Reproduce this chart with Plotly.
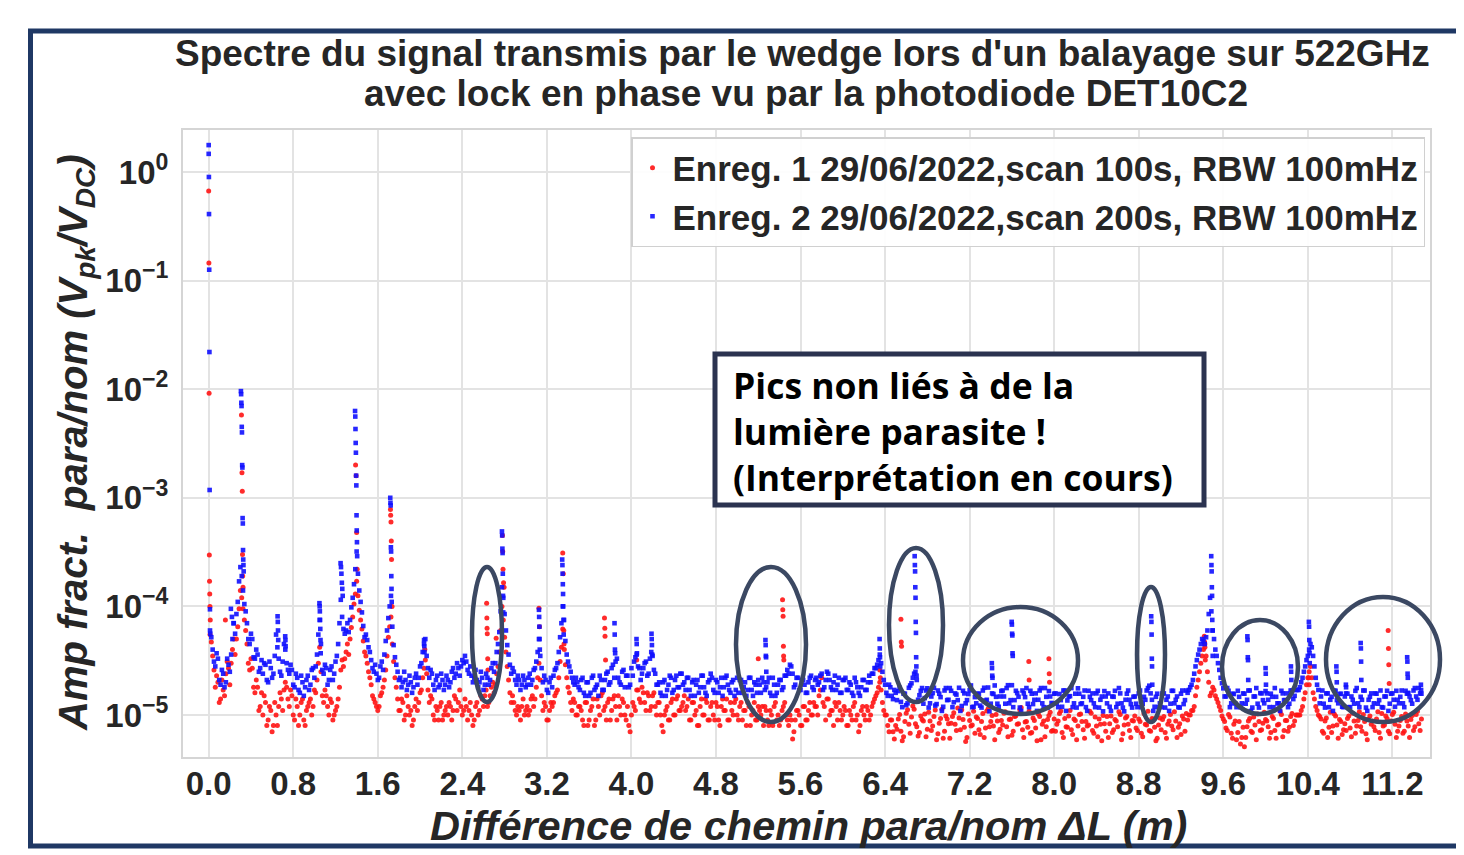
import numpy as np
import plotly.graph_objects as go

# ---------------- data (fractional amplitude in ppm = 1e-6) ----------------
floor_x_step = 0.025  # m; floor samples (two interleaved sets)

red_floor_ppm = [
    47, 26, 23, 13, 21, 15, 31, 19, 40, 36,
    65, 140, 95, 60, 30, 33, 18, 21, 11, 16,
    15, 8, 12, 7, 13, 8, 16, 11, 20, 14,
    17, 10, 14, 8, 13, 9, 11, 13, 10, 17,
    21, 42, 15, 17, 12, 14, 9, 11, 14, 26,
    28, 38, 36, 64, 105, 170, 92, 62, 38, 30,
    22, 15, 13, 11, 15, 18, 26, 52, 80, 31,
    18, 11, 14, 9, 15, 10, 8, 12, 11, 16,
    22, 32, 17, 15, 10, 12, 9, 13, 10, 12,
    13, 9, 15, 11, 17, 10, 14, 9, 13, 8,
    12, 10, 15, 12, 17, 13, 18, 16, 24, 38,
    100, 52, 28, 16, 15, 11, 12, 9, 14, 11,
    10, 14, 12, 18, 30, 15, 13, 9, 11, 12,
    15, 17, 31, 62, 29, 18, 13, 14, 10, 12,
    11, 8, 13, 9, 12, 8, 14, 10, 16, 12,
    13, 9, 14, 12, 15, 10, 13, 9, 8, 10,
    12, 17, 14, 18, 13, 16, 11, 15, 12, 13,
    10, 7, 11, 9, 13, 10, 14, 11, 12, 15,
    12, 9, 13, 10, 8, 12, 10, 14, 9, 12,
    10, 13, 9, 12, 11, 14, 9, 11, 13, 10,
    12, 9, 11, 13, 8, 11, 9, 12, 10, 8,
    11, 8, 10, 12, 9, 8, 11, 13, 9, 10,
    6, 9, 11, 8, 12, 9, 11, 10, 13, 12,
    15, 22, 12, 14, 10, 11, 13, 9, 11, 10,
    11, 8, 10, 12, 9, 7, 11, 10, 12, 9,
    12, 14, 16, 20, 13, 10, 8, 9, 7, 8,
    9.2, 7.1, 6.3, 10.4, 8.2, 9.6, 11.3, 7.8, 6.9, 9.1,
    10.2, 7.4, 8.8, 7.9, 11.1, 6.7, 9.3, 6.1, 9.8, 8.3,
    8.4, 10.5, 7.2, 9.4, 11.2, 7.7, 6.2, 8.9, 8.1, 6.8,
    9.3, 6.6, 10.3, 7.6, 11.4, 8.7, 7.9, 10.1, 6.9, 8.9,
    10.4, 7.8, 9.1, 6.5, 9.7, 8.2, 11.2, 7.3, 8.6, 7.7,
    6.8, 9.4, 7.6, 10.2, 5.9, 8.8, 7.8, 9.9, 7.1, 9.2,
    8.2, 10.3, 6.9, 9.3, 7.7, 11.0, 6.6, 8.9, 7.9, 10.2,
    7.3, 8.7, 8.1, 10.4, 6.8, 7.9, 9.2, 5.8, 8.3, 9.7,
    8.3, 6.9, 9.1, 7.8, 10.1, 6.7, 9.4, 8.2, 6.2, 8.8,
    7.6, 9.2, 6.8, 10.3, 8.1, 7.2, 9.3, 7.7, 6.1, 9.4,
    9.1, 6.9, 8.2, 10.1, 7.3, 8.8, 7.7, 6.6, 9.2, 10.3,
    10, 11, 12, 18, 25, 35, 45, 25, 15, 18,
    15, 13, 11, 9.2, 7.6, 10.1, 6.8, 8.2, 5.9, 8.7,
    6.2, 5.1, 7.8, 9.3, 6.9, 8.1, 10.2, 7.2, 8.4, 9.1,
    7.8, 6.9, 9.3, 6.1, 8.2, 10.1, 7.2, 8.9, 7.7, 10.3,
    8.8, 10, 10, 12, 16, 22, 28, 16, 12, 10,
    9.2, 6.8, 9.4, 7.7, 6.9, 10.2, 8.1, 9.1, 6.6, 8.3,
    9.3, 7.6, 10.4, 6.8, 8.9, 7.8, 10.1, 6.7, 9.2, 8.2,
    7.8, 9.2, 6.9, 10.3, 8.1, 9.3, 6.7, 10.1, 8.2, 7.1,
    8.9, 6.8, 10.2, 7.9, 9.1, 7.2, 10.1, 8.3, 9.2,
]
red_floor2_ppm = [
    55, 35, 18, 20, 14, 17, 24, 27, 30, 50,
    50, 95, 120, 75, 45, 26, 27, 16, 18, 12,
    10, 13, 9, 11, 8, 10, 12, 14, 17, 18,
    12, 15, 9, 12, 10, 14, 8, 12, 14, 12,
    16, 30, 25, 13, 15, 10, 13, 10, 12, 18,
    32, 33, 45, 50, 80, 130, 125, 75, 48, 35,
    25, 19, 14, 12, 12, 16, 21, 35, 65, 45,
    22, 14, 11, 13, 10, 12, 11, 9, 14, 13,
    17, 27, 24, 13, 14, 9, 11, 12, 9, 11,
    10, 12, 11, 14, 13, 12, 11, 12, 11, 10,
    9, 13, 11, 14, 15, 12, 15, 20, 19, 28,
    60, 75, 38, 21, 13, 13, 10, 11, 12, 10,
    12, 11, 15, 14, 22, 21, 11, 12, 9, 13,
    13, 16, 22, 42, 45, 22, 16, 11, 13, 10,
    12, 9, 13, 8, 11, 14, 9, 12, 15, 11,
    9, 14, 11, 15, 9, 12, 14, 10, 12, 7,
    13, 11, 17, 13, 16, 11, 15, 12, 16, 10,
    13, 8, 10, 12, 9, 14, 10, 15, 11, 13,
    11, 14, 9, 13, 11, 8, 14, 10, 13, 9,
    13, 9, 12, 8, 14, 11, 9, 13, 10, 14,
    9, 13, 11, 8, 12, 10, 13, 9, 11, 12,
    12, 9, 11, 8, 13, 10, 9, 12, 10, 8,
    9, 7, 11, 10, 8, 12, 9, 13, 10, 12,
    10, 17, 13, 9, 14, 11, 8, 12, 13, 9,
    12, 8, 11, 9, 13, 10, 8, 12, 9, 11,
    10, 13, 15, 18, 17, 11, 10, 7, 9, 6,
    7.4, 10.1, 5.8, 8.7, 11.2, 6.8, 12.1, 8.3, 6.4, 9.8,
    8.8, 6.3, 10.6, 7.2, 9.7, 5.9, 8.4, 11.3, 7.1, 9.2,
    6.1, 9.7, 8.2, 11.6, 7.3, 9.1, 5.7, 10.2, 7.9, 10.8,
    9.6, 7.3, 8.7, 6.2, 10.9, 7.8, 9.9, 5.9, 8.8, 7.4,
    8.1, 10.7, 6.3, 9.2, 7.1, 9.8, 8.3, 11.7, 6.2, 8.7,
    10.8, 6.9, 8.9, 5.8, 9.7, 8.2, 6.3, 9.1, 10.6, 7.2,
    7.1, 8.8, 10.9, 6.2, 7.8, 9.8, 7.3, 9.2, 5.9, 10.1,
    8.7, 6.1, 7.9, 10.8, 7.2, 9.6, 6.3, 8.2, 9.9, 7.1,
    6.2, 9.8, 7.3, 8.8, 10.7, 5.9, 8.1, 9.7, 7.2, 8.9,
    9.8, 7.2, 8.7, 6.3, 8.2, 10.8, 7.1, 9.2, 5.8, 8.1,
    7.3, 9.7, 6.1, 8.8, 7.9, 10.7, 6.2, 8.3, 9.8, 7.1,
    9, 10, 11, 15, 21, 30, 40, 35, 20, 16,
    17, 14, 12, 9.8, 8.7, 7.2, 9.6, 6.1, 8.8, 6.9,
    5.4, 7.7, 6.2, 8.8, 7.1, 9.6, 5.9, 8.7, 7.3, 10.6,
    8.8, 6.1, 9.7, 7.2, 8.1, 10.8, 6.3, 8.9, 7.1, 9.7,
    8, 10, 10, 11, 14, 19, 25, 22, 14, 11,
    9.7, 7.1, 8.8, 6.2, 10.6, 7.9, 9.8, 6.1, 8.7, 7.3,
    7.2, 9.8, 6.3, 8.8, 7.9, 10.7, 7.1, 8.7, 5.9, 9.8,
    8.8, 7.2, 10.7, 6.1, 7.9, 9.8, 7.1, 8.8, 10.6, 6.2,
    7.9, 9.7, 7.1, 8.8, 6.2, 9.9, 7.8, 10.8, 7.2,
]

blue_floor_ppm = [
    52, 31, 37, 21, 26, 18, 33, 25, 50, 56,
    110, 230, 140, 90, 50, 56, 34, 40, 25, 32,
    30, 21, 31, 22, 35, 42, 25, 31, 40, 26,
    29, 19, 24, 17, 23, 15, 21, 17, 26, 22,
    36, 75, 26, 29, 19, 26, 21, 31, 45, 115,
    62, 60, 58, 98, 160, 320, 140, 88, 52, 49,
    38, 27, 29, 21, 28, 26, 48, 78, 125, 44,
    29, 21, 18, 25, 17, 23, 16, 22, 19, 28,
    38, 50, 27, 26, 19, 21, 18, 24, 17, 23,
    18, 25, 22, 30, 23, 32, 35, 26, 28, 20,
    26, 18, 25, 17, 24, 19, 27, 25, 38, 58,
    150, 85, 44, 29, 27, 21, 23, 17, 23, 18,
    22, 19, 26, 31, 50, 27, 23, 17, 20, 18,
    26, 30, 52, 100, 48, 31, 25, 20, 22, 18,
    21, 16, 20, 15, 22, 17, 19, 23, 17, 21,
    25, 20, 29, 31, 22, 19, 26, 23, 18, 27,
    31, 36, 27, 24, 30, 23, 33, 35, 24, 19,
    16, 20, 15, 19, 22, 17, 23, 18, 24, 20,
    22, 17, 20, 15, 21, 18, 23, 16, 20, 24,
    17, 21, 16, 22, 18, 23, 17, 20, 15, 22,
    21, 16, 20, 17, 22, 15, 19, 21, 16, 20,
    18, 22, 15, 19, 16, 21, 17, 23, 26, 29,
    24, 19, 22, 17, 21, 16, 20, 23, 17, 22,
    20, 24, 18, 25, 21, 17, 23, 19, 16, 21,
    22, 17, 19, 15, 20, 16, 18, 21, 17, 23,
    24, 27, 29, 36, 25, 19, 15, 18, 14, 16,
    16.6, 13.2, 15.7, 12.3, 17.8, 19.6, 24, 21, 15.2, 17.7,
    14.3, 17.6, 12.8, 15.9, 12.2, 16.8, 14.6, 11.9, 17.7, 13.8,
    16.7, 13.1, 15.4, 17.8, 12.1, 15.8, 13.7, 16.9, 11.8, 14.6,
    15.7, 12.2, 16.8, 13.6, 17.9, 12.7, 15.6, 14.7, 11.9, 16.6,
    14.8, 17.7, 12.8, 18.8, 13.7, 15.9, 11.7, 16.8, 14.6, 12.7,
    16.7, 12.6, 15.8, 13.8, 17.7, 11.8, 14.7, 16.6, 12.9, 15.7,
    12.8, 15.6, 11.9, 16.8, 13.6, 14.9, 11.8, 15.7, 17.6, 12.6,
    14.7, 11.8, 16.7, 13.7, 12.8, 15.8, 11.7, 14.8, 16.6, 12.8,
    11.9, 14.8, 16.7, 12.7, 15.8, 11.7, 13.8, 16.8, 12.6, 14.7,
    12.7, 15.8, 11.8, 14.7, 16.8, 18.6, 13.8, 11.9, 15.7, 12.8,
    15.8, 11.7, 14.8, 12.7, 16.7, 13.8, 11.8, 15.7, 12.6, 16.8,
    17, 19, 24, 32, 40, 50, 45, 60, 120, 60,
    40, 30, 22, 17.6, 14.8, 16.7, 12.8, 15.6, 11.8, 14.7,
    12.8, 15.7, 13.8, 16.8, 11.7, 14.8, 12.7, 15.9, 13.7, 16.6,
    13.8, 15.7, 11.8, 14.7, 12.8, 16.7, 13.7, 15.8, 12.7, 16.8,
    15, 17, 18, 22, 28, 35, 45, 35, 22, 17,
    14.8, 12.7, 15.8, 11.8, 14.7, 16.8, 13.7, 15.6, 11.9, 14.8,
    15.7, 11.8, 13.8, 16.7, 12.8, 14.7, 16.8, 11.7, 13.8, 15.8,
    12.8, 15.7, 13.7, 11.8, 14.8, 16.7, 12.7, 15.8, 11.9, 13.8,
    14.7, 12.8, 16.7, 15.8, 13.7, 16.8, 14.8, 17.7, 15.7,
]
blue_floor2_ppm = [
    60, 40, 28, 33, 19, 24, 20, 29, 36, 70,
    85, 170, 190, 105, 70, 45, 50, 33, 36, 27,
    24, 29, 20, 27, 24, 55, 33, 23, 45, 30,
    24, 26, 18, 22, 16, 20, 18, 23, 19, 27,
    28, 55, 45, 24, 27, 21, 28, 24, 35, 70,
    80, 56, 70, 75, 120, 220, 200, 110, 66, 55,
    42, 32, 25, 24, 22, 31, 36, 60, 100, 65,
    34, 25, 22, 20, 21, 19, 20, 18, 24, 22,
    30, 45, 35, 22, 24, 17, 23, 19, 21, 19,
    21, 20, 27, 24, 27, 28, 30, 31, 24, 23,
    22, 21, 20, 22, 19, 22, 21, 30, 30, 45,
    90, 120, 60, 36, 24, 25, 19, 21, 19, 21,
    19, 24, 21, 27, 38, 35, 20, 21, 16, 22,
    23, 27, 38, 70, 75, 36, 28, 22, 19, 20,
    17, 22, 15, 20, 16, 23, 18, 15, 21, 17,
    24, 19, 27, 22, 33, 20, 25, 18, 23, 19,
    23, 34, 28, 21, 27, 31, 24, 38, 26, 19,
    20, 15, 21, 17, 23, 16, 21, 18, 24, 19,
    17, 22, 15, 21, 19, 16, 23, 18, 15, 21,
    22, 16, 20, 18, 15, 22, 19, 16, 21, 17,
    16, 21, 18, 15, 22, 17, 20, 16, 19, 22,
    17, 20, 16, 22, 15, 19, 21, 18, 23, 24,
    28, 18, 22, 17, 21, 19, 16, 22, 18, 21,
    19, 23, 17, 21, 24, 18, 20, 17, 22, 16,
    21, 17, 20, 16, 22, 18, 15, 21, 17, 20,
    20, 24, 27, 32, 30, 21, 16, 19, 15, 17,
    13.7, 17.8, 11.8, 15.7, 12.8, 18.7, 22, 25, 13.8, 16.7,
    12.7, 16.8, 11.7, 14.8, 17.8, 12.6, 15.7, 10.9, 16.8, 13.7,
    17.7, 11.8, 15.8, 13.7, 10.9, 16.7, 12.8, 15.6, 18.7, 11.9,
    12.8, 15.7, 11.7, 17.8, 13.8, 10.8, 15.8, 18.7, 12.7, 14.8,
    16.8, 12.7, 18.8, 13.7, 11.8, 16.7, 14.7, 10.9, 15.8, 17.7,
    11.8, 15.7, 13.8, 10.9, 16.8, 12.8, 17.7, 11.7, 14.8, 12.7,
    15.8, 11.8, 13.7, 16.8, 10.9, 14.8, 17.7, 12.8, 11.7, 15.7,
    12.8, 16.8, 10.9, 14.7, 15.8, 11.8, 16.7, 13.8, 10.8, 14.8,
    15.8, 10.9, 14.7, 11.8, 17.7, 12.8, 10.8, 15.7, 13.8, 11.7,
    14.8, 11.8, 16.8, 12.7, 13.8, 17.7, 15.8, 10.9, 14.7, 11.8,
    11.8, 15.8, 13.8, 10.9, 16.7, 12.8, 14.8, 11.7, 16.8, 13.7,
    16, 18, 21, 28, 36, 45, 48, 52, 85, 90,
    50, 35, 26, 19.6, 14.8, 17.7, 11.8, 15.7, 12.8, 16.7,
    11.8, 15.8, 12.7, 16.8, 10.9, 14.8, 17.7, 11.7, 15.8, 12.8,
    15.8, 11.8, 14.7, 17.7, 12.8, 10.9, 15.8, 13.7, 11.8, 16.8,
    14, 17, 17, 20, 25, 32, 40, 42, 28, 19,
    12.8, 16.8, 11.7, 15.8, 13.8, 10.9, 16.7, 12.8, 15.7, 11.8,
    15.8, 11.8, 14.8, 12.7, 17.7, 11.8, 13.8, 16.8, 10.9, 14.7,
    11.8, 15.8, 12.7, 16.8, 11.7, 14.8, 10.9, 15.7, 13.8, 16.7,
    12.8, 16.8, 11.8, 15.7, 14.8, 12.7, 17.7, 13.8, 15.8,
]

# narrow peaks (columns of points)
red_peak_x = [0.0, 0.002, 0.004, 0.006, 0.008, 0.01, 0.012, 0.015, 0.158,
              0.31, 0.315, 0.318, 0.32, 0.322, 0.325,
              1.39, 1.395, 1.4, 1.405,
              1.72, 1.722, 1.725, 1.728, 1.73, 1.735,
              2.045, 2.63, 2.632, 2.634, 2.636, 2.64, 2.642, 2.72,
              2.78, 2.782, 2.785, 2.79, 2.795,
              3.125, 3.13, 3.35, 3.355, 3.36, 3.365,
              3.745, 3.748, 3.75, 3.755, 4.05, 5.2,
              5.43, 5.432, 5.435, 5.438, 5.44, 5.442,
              6.35, 6.355, 6.55, 6.553, 6.556,
              7.76, 7.763, 7.95, 7.953, 7.956,
              9.42, 9.423, 9.426, 9.43, 10.41, 10.413,
              11.16, 11.163, 11.166, 11.17]
red_peak_ppm = [670000, 145000, 9200, 297, 170, 130, 100, 75, 75,
                5800, 1700, 1150, 300, 190, 150,
                2000, 1600, 480, 220,
                780, 690, 600, 400, 270, 100,
                40, 107, 78, 63, 56, 33, 26, 51,
                450, 320, 220, 165, 150,
                96, 65, 310, 200, 60, 40,
                78, 63, 53, 32, 32, 33,
                115, 93, 81, 43, 35, 32,
                26, 22, 76, 47, 43,
                31, 21, 33, 24, 20,
                53, 47, 42, 32, 22, 19,
                60, 41, 29, 19.5]

blue_peak_x = [0.0, 0.0, 0.002, 0.003, 0.005, 0.007, 0.009, 0.012, 0.015,
               0.21, 0.22, 0.235,
               0.305, 0.307, 0.309, 0.311, 0.313, 0.315, 0.317, 0.319, 0.321, 0.323,
               0.325, 0.327, 0.329, 0.331,
               0.652, 0.654, 0.656, 0.658, 0.724, 0.726, 0.728,
               1.048, 1.05, 1.052, 1.054, 1.056, 1.058, 1.06,
               1.248, 1.252, 1.256, 1.26, 1.264, 1.268,
               1.385, 1.387, 1.389, 1.391, 1.393, 1.395, 1.397, 1.399, 1.401, 1.403, 1.405,
               1.718, 1.72, 1.722, 1.724, 1.726, 1.728, 1.73, 1.732,
               2.038, 2.04, 2.042,
               2.775, 2.777, 2.779, 2.781, 2.783, 2.785, 2.787,
               3.125, 3.127, 3.129, 3.131, 3.133,
               3.345, 3.347, 3.349, 3.351, 3.353, 3.355, 3.357, 3.359,
               3.84, 3.842, 3.844, 3.846, 4.048, 4.05, 4.052,
               4.19, 4.192, 4.194, 4.196,
               5.268, 5.27, 5.272, 5.274, 5.276,
               6.348, 6.35, 6.352, 6.354,
               6.68, 6.682, 6.684, 6.686, 6.688, 6.69, 6.692, 6.694, 6.696, 6.698,
               7.41, 7.412, 7.414, 7.416,
               7.598, 7.6, 7.602, 7.604, 7.606, 7.608,
               8.918, 8.92, 8.922, 8.924, 8.926, 8.928,
               9.486, 9.488, 9.49, 9.492, 9.494, 9.496, 9.498, 9.5,
               9.828, 9.83, 9.832, 9.834, 9.836,
               10.0, 10.002, 10.004, 10.24, 10.242, 10.244,
               10.41, 10.412, 10.414, 10.416, 10.418,
               10.67, 10.672, 10.674, 10.76, 10.762,
               10.9, 10.902, 10.904, 10.906,
               11.34, 11.342, 11.344, 11.346, 11.348, 11.47, 11.472]
blue_peak_ppm = [1770000, 1470000, 900000, 410000, 126000, 22000, 1180, 94, 56,
                 95, 80, 70,
                 9600, 9000, 7500, 7000, 4500, 4000, 2000, 1900, 650, 580,
                 330, 270, 240, 210,
                 81, 72, 60, 49, 53, 49, 43,
                 107, 100, 90, 75, 62, 49, 37,
                 250, 230, 200, 165, 145, 125,
                 6300, 5600, 4300, 3200, 2600, 1600, 1300, 690, 500, 390, 290,
                 1000, 900, 850, 350, 320, 190, 145, 110,
                 49, 43, 38,
                 490, 450, 340, 310, 200, 125, 88,
                 93, 80, 65, 50, 40,
                 270, 240, 200, 160, 130, 100, 75, 55,
                 70, 55, 40, 37, 50, 45, 37,
                 56, 50, 44, 36,
                 49, 44, 35, 34, 25,
                 50, 41, 34, 28,
                 290, 240, 210, 150, 120, 72, 57, 34, 28, 23,
                 30, 27, 23, 22,
                 72, 68, 56, 54, 37, 35,
                 81, 72, 55, 33, 28, 19,
                 290, 240, 210, 150, 125, 75, 60, 35,
                 53, 49, 34, 32, 21,
                 27, 24, 19, 28, 25, 21,
                 72, 65, 49, 37, 30,
                 28, 25, 20, 19, 18,
                 46, 41, 31, 21,
                 34, 31, 24, 22, 16, 19, 17]

series_names = ["Enreg. 1 29/06/2022,scan 100s, RBW 100mHz",
                "Enreg. 2 29/06/2022,scan 200s, RBW 100mHz"]
x_ticks = [0.0, 0.8, 1.6, 2.4, 3.2, 4.0, 4.8, 5.6, 6.4, 7.2, 8.0, 8.8, 9.6, 10.4, 11.2]
y_ticks = [1e-5, 1e-4, 1e-3, 1e-2, 1e-1, 1e0]
y_tick_text = ["10<sup>−5</sup>", "10<sup>−4</sup>", "10<sup>−3</sup>",
               "10<sup>−2</sup>", "10<sup>−1</sup>", "10<sup>0</sup>"]


# ---------------- build traces ----------------
def series(floor_a, floor_b, peak_x, peak_ppm):
    xa = np.arange(1, len(floor_a) + 1) * floor_x_step
    xb = (np.arange(len(floor_b)) + 0.5) * floor_x_step
    x = np.concatenate([xa, xb, np.array(peak_x)])
    y = np.concatenate([np.array(floor_a, float), np.array(floor_b, float),
                        np.array(peak_ppm, float)]) * 1e-6
    return x, y


rx, ry = series(red_floor_ppm, red_floor2_ppm, red_peak_x, red_peak_ppm)
bx, by = series(blue_floor_ppm, blue_floor2_ppm, blue_peak_x, blue_peak_ppm)

# page body has an 8px margin -> figure drawn 8px lower/right
OFF = 8
W, H = 1464 - OFF, 855 - OFF
PL, PR, PT, PB = 183, 1430, 130, 757          # plot area in page pixels
L, R, T, B = PL - OFF, W - (PR - OFF), PT - OFF, H - (PB - OFF)
PW, PH = PR - PL, PB - PT


def fx_(p):
    return (p - PL) / PW


def fy_(p):
    return (PB - p) / PH


fig = go.Figure()
fig.add_trace(go.Scatter(x=rx, y=ry, mode="markers", name=series_names[0],
                         marker=dict(color="#ff1414", size=5, symbol="circle",
                                     line=dict(width=0), opacity=0.9)))
fig.add_trace(go.Scatter(x=bx, y=by, mode="markers", name=series_names[1],
                         marker=dict(color="#1010ff", size=4.6, symbol="square",
                                     line=dict(width=0), opacity=0.9)))

SANS = "Liberation Sans, Arial, sans-serif"
DARK = "#262626"

shapes = []
NAVY = "#1f3864"
shapes.append(dict(type="line", xref="paper", yref="paper", x0=fx_(28), x1=fx_(1470),
                   y0=fy_(31), y1=fy_(31), line=dict(color=NAVY, width=5)))
shapes.append(dict(type="line", xref="paper", yref="paper", x0=fx_(28), x1=fx_(1470),
                   y0=fy_(846), y1=fy_(846), line=dict(color=NAVY, width=5)))
shapes.append(dict(type="line", xref="paper", yref="paper", x0=fx_(30.5), x1=fx_(30.5),
                   y0=fy_(29), y1=fy_(848), line=dict(color=NAVY, width=5)))
shapes.append(dict(type="line", xref="paper", yref="paper", x0=fx_(1461), x1=fx_(1461),
                   y0=fy_(33), y1=fy_(844), line=dict(color="#c8c8c8", width=1.5)))

ELL = "#3b4862"
for (x0, x1, y0, y1) in [(472, 502, 567, 702), (736, 806, 567, 722), (889, 943, 548, 702),
                         (963, 1078, 607, 714), (1137, 1165, 587, 722), (1222, 1298, 620, 714),
                         (1326, 1440, 597, 722)]:
    shapes.append(dict(type="circle", xref="paper", yref="paper",
                       x0=fx_(x0), x1=fx_(x1), y0=fy_(y1), y1=fy_(y0),
                       line=dict(color=ELL, width=4.5)))

shapes.append(dict(type="rect", xref="paper", yref="paper",
                   x0=fx_(715), x1=fx_(1204), y0=fy_(505), y1=fy_(354),
                   fillcolor="white", line=dict(color="#2b3350", width=5)))


def note(text, x, y, size, family=SANS, xanchor="center", angle=0, color=DARK):
    return dict(text=text, xref="paper", yref="paper", x=fx_(x), y=fy_(y),
                xanchor=xanchor, yanchor="middle", textangle=angle, showarrow=False,
                align="left", font=dict(family=family, size=size, color=color))


BOX = "Open Sans, sans-serif"
annotations = [
    note("<b>Spectre du signal transmis par le wedge lors d'un balayage sur 522GHz</b>", 802, 53, 37),
    note("<b>avec lock en phase vu par la photodiode DET10C2</b>", 806, 94, 37),
    note("<b><i>Amp fract.\u00a0\u00a0para/nom (V<sub>pk</sub>/V<sub>DC</sub>)</i></b>", 76, 443, 40,
         angle=-90),
    note("<b><i>Différence de chemin para/nom ΔL (m)</i></b>", 808, 825, 41.5),
    note("<b>Pics non liés à de la<br>lumière parasite !<br>(Interprétation en cours)</b>",
         731, 431, 35.5, family=BOX, xanchor="left", color="black"),
]

fig.update_layout(
    width=W, height=H,
    margin=dict(l=L, r=R, t=T, b=B),
    paper_bgcolor="white", plot_bgcolor="white",
    shapes=shapes, annotations=annotations,
    showlegend=True,
    legend=dict(x=fx_(1425), y=fy_(137), xanchor="right", yanchor="top",
                bgcolor="rgba(255,255,255,0.9)", bordercolor="#d0d0d0", borderwidth=1.5,
                font=dict(family=SANS, size=35, color=DARK, weight="bold"),
                itemsizing="trace", tracegroupgap=0),
    font=dict(family=SANS, color=DARK),
)

fig.update_xaxes(range=[-0.243, 11.556], tickvals=x_ticks,
                 ticktext=[f"{v:.1f}" for v in x_ticks],
                 tickfont=dict(family=SANS, size=33, color=DARK, weight="bold"),
                 showgrid=True, gridcolor="#e3e3e3", gridwidth=2,
                 showline=True, mirror=True, linecolor="#d5d5d5", linewidth=2,
                 ticks="", ticklabelstandoff=-4, zeroline=False)
fig.update_yaxes(type="log", range=[-5.387, 0.387], tickvals=y_ticks, ticktext=y_tick_text,
                 tickfont=dict(family=SANS, size=33, color=DARK, weight="bold"),
                 showgrid=True, gridcolor="#e3e3e3", gridwidth=2,
                 showline=True, mirror=True, linecolor="#d5d5d5", linewidth=2,
                 ticks="", ticklabelstandoff=6, zeroline=False)

fig.write_html("out.html")
